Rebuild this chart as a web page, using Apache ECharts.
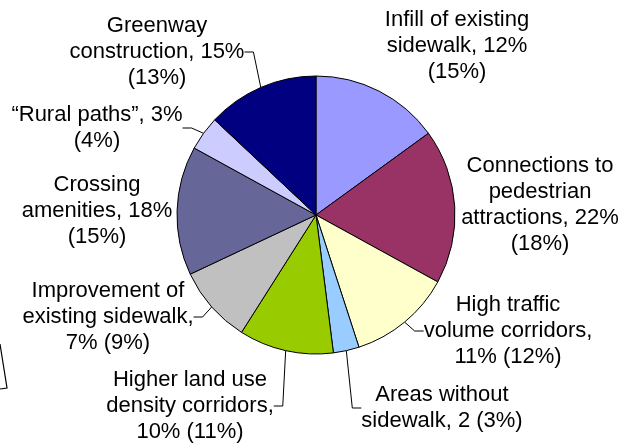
<!DOCTYPE html>
<html>
<head>
<meta charset="utf-8">
<script src="https://cdn.jsdelivr.net/npm/echarts@6/dist/echarts.min.js"></script>
<style>
html,body{margin:0;padding:0;background:#fff;}
#chart{width:619px;height:445px;}
</style>
</head>
<body>
<div id="chart"></div>
<script>
// Categories (clockwise from 12 o'clock)
var categories = [
  'Infill of existing sidewalk',
  'Connections to pedestrian attractions',
  'High traffic volume corridors',
  'Areas without sidewalk',
  'Higher land use density corridors',
  'Improvement of existing sidewalk',
  'Crossing amenities',
  '“Rural paths”',
  'Greenway construction'
];
// Slice values (percentages in parentheses)
var values = [15, 18, 12, 3, 11, 9, 15, 4, 13];
// Label text as printed on the chart
var labelTexts = [
  'Infill of existing\nsidewalk, 12%\n(15%)',
  'Connections to\npedestrian\nattractions, 22%\n(18%)',
  'High traffic\nvolume corridors,\n11% (12%)',
  'Areas without\nsidewalk, 2 (3%)',
  'Higher land use\ndensity corridors,\n10% (11%)',
  'Improvement of\nexisting sidewalk,\n7% (9%)',
  'Crossing\namenities, 18%\n(15%)',
  '“Rural paths”, 3%\n(4%)',
  'Greenway\nconstruction, 15%\n(13%)'
];
var colors = ['#9999FF', '#993366', '#FFFFCC', '#99CCFF', '#99CC00', '#C0C0C0', '#666699', '#CCCCFF', '#000080'];
var hasLeader = [false, false, true, true, true, true, false, true, true];

// Layout only: label block centres
var labelPos = [[457, 46], [540, 205], [508, 331], [442, 408], [190, 406], [108, 317], [97, 211], [97, 128], [157, 52]];

var chart = echarts.init(document.getElementById('chart'), null, {renderer: 'canvas'});
var data = categories.map(function (c, i) {
  return {
    name: c,
    value: values[i],
    itemStyle: {color: colors[i]},
    labelLine: {show: hasLeader[i]}
  };
});
chart.setOption({
  backgroundColor: '#ffffff',
  animation: false,
  series: [{
    type: 'pie',
    center: [316, 215],
    radius: 139,
    startAngle: 90,
    clockwise: true,
    avoidLabelOverlap: false,
    data: data,
    itemStyle: {borderColor: '#000', borderWidth: 1},
    label: {
      show: true,
      position: 'outside',
      formatter: function (p) { return labelTexts[p.dataIndex]; },
      fontFamily: 'Liberation Sans, Arial, sans-serif',
      fontSize: 22,
      lineHeight: 26,
      color: '#000',
      align: 'center'
    },
    labelLine: {
      show: true,
      length: 10,
      length2: 9,
      smooth: false,
      lineStyle: {color: '#000', width: 1}
    },
    labelLayout: function (p) {
      var pos = labelPos[p.dataIndex];
      return {x: pos[0], y: pos[1], align: 'center', verticalAlign: 'middle'};
    },
    emphasis: {disabled: true}
  }],
  graphic: [{
    type: 'polyline',
    shape: {points: [[0, 344], [7, 388], [0, 389]]},
    style: {stroke: '#000', lineWidth: 1.2, fill: null}
  }]
});
</script>
</body>
</html>
